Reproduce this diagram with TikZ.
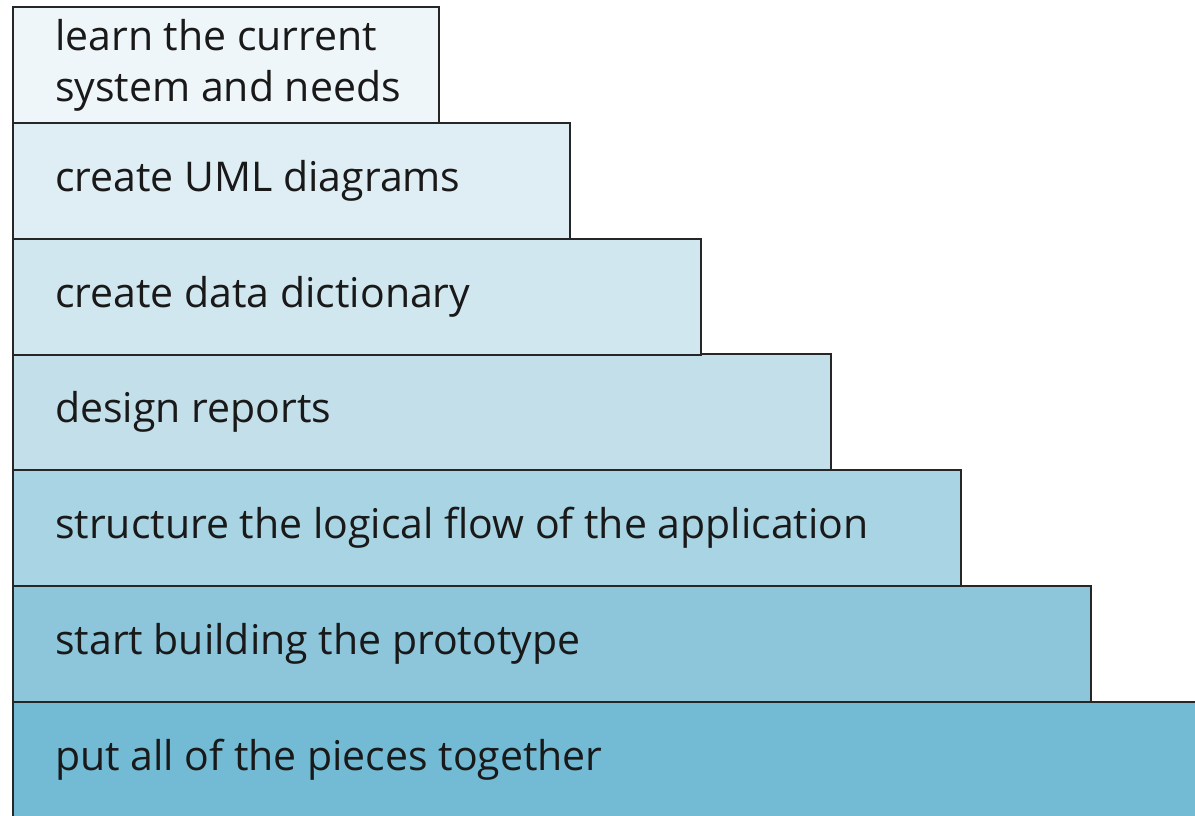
\documentclass[tikz,border=0pt]{standalone}
\usepackage{fontspec}
\setmainfont{Open Sans}
\definecolor{sA}{HTML}{EEF6FA}
\definecolor{sB}{HTML}{DFEEF4}
\definecolor{sC}{HTML}{D1E7EF}
\definecolor{sD}{HTML}{C3DFEA}
\definecolor{sE}{HTML}{A9D4E3}
\definecolor{sF}{HTML}{8DC6DB}
\definecolor{sG}{HTML}{73BBD5}
\tikzset{
  stepbox/.style={draw=black!85, line width=1.8pt, anchor=north west,
    minimum height=116pt, inner sep=0pt},
  steptext/.style={anchor=west, inner sep=0pt, align=left,
    font=\fontsize{41}{51}\selectfont, text=black!90}
}
\begin{document}
\begin{tikzpicture}[x=1pt,y=-1pt]
\useasboundingbox (0,0) rectangle (1195,815);
% stacked steps, widest at the bottom
\node[stepbox, fill=sG, minimum width=1200pt] (s7) at (12,701) {};
\node[stepbox, fill=sF, minimum width=1078pt] (s6) at (12,585) {};
\node[stepbox, fill=sE, minimum width=948pt] (s5) at (12,469) {};
\node[stepbox, fill=sD, minimum width=818pt] (s4) at (12,353) {};
\node[stepbox, fill=sC, minimum width=688pt] (s3) at (12,238) {};
\node[stepbox, fill=sB, minimum width=557pt] (s2) at (12,122) {};
\node[stepbox, fill=sA, minimum width=426pt] (s1) at (12,6) {};
% step labels
\node[steptext] (t7) at ([xshift=43pt]s7.west) {put all of the pieces together};
\node[steptext] (t6) at ([xshift=43pt]s6.west) {start building the prototype};
\node[steptext] (t5) at ([xshift=43pt]s5.west) {structure the logical flow of the application};
\node[steptext] (t4) at ([xshift=43pt]s4.west) {design reports};
\node[steptext] (t3) at ([xshift=43pt]s3.west) {create data dictionary};
\node[steptext] (t2) at ([xshift=43pt]s2.west) {create UML diagrams};
\node[steptext] (t1) at ([xshift=43pt]s1.west) {learn the current\\system and needs};
\end{tikzpicture}
\end{document}
